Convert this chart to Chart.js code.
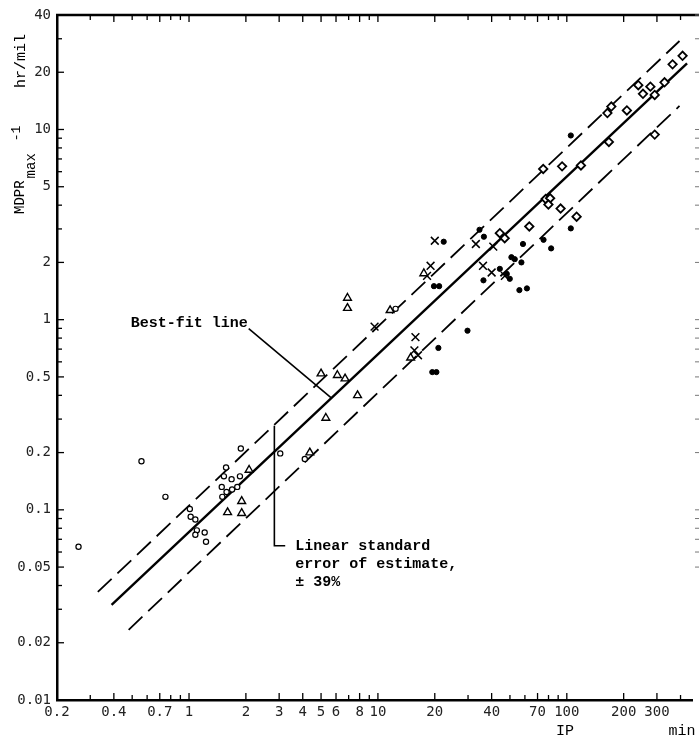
<!DOCTYPE html>
<html>
<head>
<meta charset="utf-8">
<script src="https://cdn.jsdelivr.net/npm/chart.js@4.4.1/dist/chart.umd.min.js"></script>
<style>
  html, body { margin: 0; padding: 0; background: #fff; }
  #wrap { width: 699px; height: 742px; }
</style>
</head>
<body>
<div id="wrap"><canvas id="mdprChart" width="699" height="742"></canvas></div>
<script>
// tick labels (log axes)
const xTickLabels = [0.2, 0.4, 0.7, 1, 2, 3, 4, 5, 6, 8, 10, 20, 40, 70, 100, 200, 300];
const yTickLabels = [0.01, 0.02, 0.05, 0.1, 0.2, 0.5, 1, 2, 5, 10, 20, 40];

// open circles
const circleIP   = [0.26, 0.56, 0.75, 1.01, 1.02, 1.08, 1.1, 1.08, 1.21, 1.23, 1.5, 1.49, 1.53, 1.57, 1.58, 1.69, 1.68, 1.8, 1.86, 1.88, 3.04, 4.1, 12.4];
const circleMDPR = [0.064, 0.18, 0.117, 0.101, 0.092, 0.089, 0.078, 0.074, 0.076, 0.068, 0.117, 0.132, 0.15, 0.167, 0.124, 0.128, 0.145, 0.132, 0.15, 0.21, 0.198, 0.185, 1.14];

// triangles
const triangleIP   = [1.6, 1.9, 1.9, 2.08, 4.36, 5.3, 5.0, 6.1, 6.7, 7.8, 6.9, 6.9, 11.6, 17.5, 14.9];
const triangleMDPR = [0.097, 0.096, 0.111, 0.162, 0.2, 0.304, 0.52, 0.51, 0.49, 0.40, 1.3, 1.15, 1.12, 1.75, 0.63];

// crosses
const crossIP   = [9.6, 20, 19, 18.2, 33, 40.8, 36, 40, 47, 15.8, 15.6, 16.3];
const crossMDPR = [0.92, 2.6, 1.92, 1.7, 2.5, 2.42, 1.92, 1.77, 1.7, 0.81, 0.69, 0.65];

// filled dots
const dotIP   = [22.3, 19.8, 21.1, 29.8, 20.9, 19.4, 20.4, 34.5, 36.4, 36.2, 44.2, 48.1, 50.9, 53, 57.5, 58.6, 56.1, 61.5, 49.9, 75.3, 82.6, 105, 105];
const dotMDPR = [2.57, 1.5, 1.5, 0.875, 0.71, 0.53, 0.53, 2.97, 2.73, 1.61, 1.85, 1.74, 2.13, 2.08, 2.0, 2.5, 1.43, 1.46, 1.64, 2.63, 2.37, 3.02, 9.3];

// open diamonds
const diamondIP   = [44.2, 46.9, 63.3, 77.3, 81.6, 79.9, 92.7, 112.7, 75, 94.4, 118.8, 167, 164, 172, 208, 239, 253, 277, 292, 329, 363, 410, 292];
const diamondMDPR = [2.85, 2.68, 3.09, 4.31, 4.35, 4.03, 3.84, 3.48, 6.2, 6.4, 6.47, 8.6, 12.2, 13.2, 12.6, 17.1, 15.4, 16.8, 15.2, 17.7, 22, 24.4, 9.4];

// best-fit line and +/- 39% band (end points)
const fitIP     = [0.389, 433];
const fitMDPR   = [0.0316, 22.3];
const upperIP   = [0.329, 395];
const upperMDPR = [0.037, 29.2];
const lowerIP   = [0.479, 395];
const lowerMDPR = [0.0234, 13.3];

function pts(xs, ys) { return xs.map((v, i) => ({ x: v, y: ys[i] })); }

function logTicks(lo, hi) {
    const out = [];
    for (let e = -3; e <= 3; e++) {
        for (let m = 1; m <= 9; m++) {
            const v = Number((m * Math.pow(10, e)).toPrecision(3));
            if (v >= lo - 1e-9 && v <= hi + 1e-9) out.push({ value: v });
        }
    }
    return out;
}

const mono = "'Liberation Mono', 'DejaVu Sans Mono', monospace";

// frame, inward ticks, annotations and axis titles
const extras = {
    id: 'extras',
    afterDraw(chart) {
        const { ctx, chartArea: a, scales: { x, y } } = chart;
        ctx.save();
        ctx.strokeStyle = '#000';
        ctx.fillStyle = '#000';

        ctx.lineWidth = 2.5;
        ctx.beginPath();
        ctx.moveTo(a.left - 1, a.top);
        ctx.lineTo(chart.width, a.top);
        ctx.stroke();

        ctx.lineWidth = 1.3;
        x.ticks.forEach(t => {
            const px = x.getPixelForValue(t.value);
            const len = t.label ? 7 : 5;
            ctx.beginPath();
            ctx.moveTo(px, a.bottom); ctx.lineTo(px, a.bottom - len);
            ctx.moveTo(px, a.top); ctx.lineTo(px, a.top + len);
            ctx.stroke();
        });
        y.ticks.forEach(t => {
            const py = y.getPixelForValue(t.value);
            const len = t.label ? 7 : 5;
            ctx.beginPath();
            ctx.moveTo(a.left, py); ctx.lineTo(a.left + len, py);
            ctx.stroke();
        });
        ctx.strokeStyle = '#777';
        ctx.lineWidth = 1;
        y.ticks.forEach(t => {
            if (t.value < 0.05) return;
            const py = y.getPixelForValue(t.value);
            ctx.beginPath();
            ctx.moveTo(chart.width - 4, py); ctx.lineTo(chart.width, py);
            ctx.stroke();
        });

        // best-fit leader
        ctx.strokeStyle = '#000';
        ctx.lineWidth = 1.6;
        const l0x = x.getPixelForValue(2.07), l0y = y.getPixelForValue(0.897);
        const l1x = x.getPixelForValue(5.64), l1y = y.getPixelForValue(0.389);
        ctx.beginPath();
        ctx.moveTo(l0x, l0y); ctx.lineTo(l1x, l1y);
        ctx.stroke();
        ctx.font = 'bold 15px ' + mono;
        ctx.textAlign = 'right';
        ctx.textBaseline = 'middle';
        ctx.fillText('Best-fit line', l0x - 1, l0y - 5);

        // standard error bracket
        const bx = x.getPixelForValue(2.83);
        const by0 = y.getPixelForValue(0.277), by1 = y.getPixelForValue(0.0647);
        const bx2 = x.getPixelForValue(3.23);
        ctx.beginPath();
        ctx.moveTo(bx, by0); ctx.lineTo(bx, by1); ctx.lineTo(bx2, by1);
        ctx.stroke();
        ctx.textAlign = 'left';
        const tx = x.getPixelForValue(3.65);
        ctx.fillText('Linear standard', tx, by1);
        ctx.fillText('error of estimate,', tx, by1 + 18);
        ctx.fillText('\u00B1 39%', tx, by1 + 36);

        // x axis title
        ctx.font = '15px ' + mono;
        ctx.textAlign = 'center';
        ctx.fillText('IP', 565, 731);
        ctx.fillText('min', 682, 731);

        // y axis title (rotated)
        ctx.save();
        ctx.translate(24, 214);
        ctx.rotate(-Math.PI / 2);
        ctx.textAlign = 'left';
        ctx.textBaseline = 'alphabetic';
        ctx.font = '14px ' + mono;
        ctx.fillText('MDPR', 0, 0);
        let w = ctx.measureText('MDPR').width;
        ctx.fillText('max', w + 2, 11);
        w += ctx.measureText('max').width + 14;
        ctx.font = '13px ' + mono;
        ctx.fillText('-1', w, -4);
        ctx.restore();

        ctx.save();
        ctx.translate(25, 88);
        ctx.rotate(-Math.PI / 2);
        ctx.textAlign = 'left';
        ctx.textBaseline = 'alphabetic';
        ctx.font = '15px ' + mono;
        ctx.fillText('hr/mil', 0, 0);
        ctx.restore();

        ctx.restore();
    }
};

const ctx = document.getElementById('mdprChart').getContext('2d');
const mdprChart = new Chart(ctx, {
    type: 'scatter',
    data: {
        datasets: [
            { label: 'circles', data: pts(circleIP, circleMDPR), pointStyle: 'circle', pointRadius: 2.6,
              backgroundColor: '#fff', borderColor: '#000', borderWidth: 1.2 },
            { label: 'triangles', data: pts(triangleIP, triangleMDPR), pointStyle: 'triangle', pointRadius: 4.5,
              backgroundColor: '#fff', borderColor: '#000', borderWidth: 1.4 },
            { label: 'crosses', data: pts(crossIP, crossMDPR), pointStyle: 'crossRot', pointRadius: 5.5,
              borderColor: '#000', borderWidth: 1.5 },
            { label: 'dots', data: pts(dotIP, dotMDPR), pointStyle: 'circle', pointRadius: 2.6,
              backgroundColor: '#000', borderColor: '#000', borderWidth: 1 },
            { label: 'diamonds', data: pts(diamondIP, diamondMDPR), pointStyle: 'rectRot', pointRadius: 4.2,
              backgroundColor: '#fff', borderColor: '#000', borderWidth: 1.8 },
            { type: 'line', label: 'best fit', data: pts(fitIP, fitMDPR), showLine: true, pointRadius: 0,
              borderColor: '#000', borderWidth: 2.4, order: 1 },
            { type: 'line', label: 'upper', data: pts(upperIP, upperMDPR), showLine: true, pointRadius: 0,
              borderColor: '#000', borderWidth: 1.8, borderDash: [19, 8], order: 1 },
            { type: 'line', label: 'lower', data: pts(lowerIP, lowerMDPR), showLine: true, pointRadius: 0,
              borderColor: '#000', borderWidth: 1.8, borderDash: [19, 8], order: 1 }
        ]
    },
    options: {
        responsive: false,
        animation: false,
        layout: { padding: { top: 15, right: 2, left: 0, bottom: 0 } },
        plugins: { legend: { display: false }, tooltip: { enabled: false } },
        scales: {
            x: {
                type: 'logarithmic',
                min: 0.2,
                max: 460,
                grid: { display: false, drawTicks: false },
                border: { display: true, color: '#000', width: 2.5 },
                afterBuildTicks: s => { s.ticks = logTicks(0.2, 460); },
                afterFit: s => { s.height = 42; },
                ticks: {
                    autoSkip: false, maxRotation: 0, minRotation: 0, padding: 4,
                    color: '#222', font: { family: "'DejaVu Sans Mono', monospace", size: 14 },
                    callback: v => xTickLabels.includes(v) ? String(v) : ''
                }
            },
            y: {
                type: 'logarithmic',
                min: 0.01,
                max: 40,
                grid: { display: false, drawTicks: false },
                border: { display: true, color: '#000', width: 2.5 },
                afterBuildTicks: s => { s.ticks = logTicks(0.01, 40); },
                afterFit: s => { s.width = 57; },
                ticks: {
                    autoSkip: false, padding: 6,
                    color: '#222', font: { family: "'DejaVu Sans Mono', monospace", size: 14 },
                    callback: v => yTickLabels.includes(v) ? String(v) : ''
                }
            }
        }
    },
    plugins: [extras]
});
</script>
</body>
</html>
